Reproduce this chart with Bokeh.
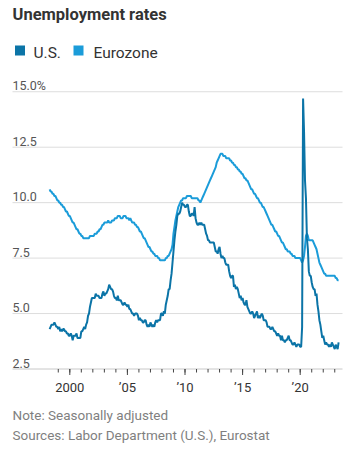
from bokeh.plotting import figure
from bokeh.models import Range1d, ColumnDataSource
from bokeh.core.properties import value
from bokeh.embed import file_html
from bokeh.resources import INLINE

# ---------------- data ----------------
title_text = "Unemployment rates"
series_names = ["U.S.", "Eurozone"]
series_colors = ["#0b74a7", "#1b9cd9"]
start_year, start_month = 1998, 4  # first monthly observation (Apr 1998)

us_rate = [
    4.3, 4.4, 4.5, 4.5, 4.5, 4.6, 4.5, 4.4, 4.4,                     # 1998
    4.3, 4.4, 4.2, 4.3, 4.2, 4.3, 4.3, 4.2, 4.2, 4.1, 4.1, 4.0,      # 1999
    4.0, 4.1, 4.0, 3.8, 4.0, 4.0, 4.0, 4.1, 3.9, 3.9, 3.9, 3.9,      # 2000
    4.2, 4.2, 4.3, 4.4, 4.3, 4.5, 4.6, 4.9, 5.0, 5.3, 5.5, 5.7,      # 2001
    5.7, 5.7, 5.7, 5.9, 5.8, 5.8, 5.8, 5.7, 5.7, 5.7, 5.9, 6.0,      # 2002
    5.8, 5.9, 5.9, 6.0, 6.1, 6.3, 6.2, 6.1, 6.1, 6.0, 5.8, 5.7,      # 2003
    5.7, 5.6, 5.8, 5.6, 5.6, 5.6, 5.5, 5.4, 5.4, 5.5, 5.4, 5.4,      # 2004
    5.3, 5.4, 5.2, 5.2, 5.1, 5.0, 5.0, 4.9, 5.0, 5.0, 5.0, 4.9,      # 2005
    4.7, 4.8, 4.7, 4.7, 4.6, 4.6, 4.7, 4.7, 4.5, 4.4, 4.5, 4.4,      # 2006
    4.6, 4.5, 4.4, 4.5, 4.4, 4.6, 4.7, 4.6, 4.7, 4.7, 4.7, 5.0,      # 2007
    5.0, 4.9, 5.1, 5.0, 5.4, 5.6, 5.8, 6.1, 6.1, 6.5, 6.8, 7.3,      # 2008
    7.8, 8.3, 8.7, 9.0, 9.4, 9.5, 9.5, 9.6, 9.8, 10.0, 9.9, 9.9,     # 2009
    9.8, 9.8, 9.9, 9.9, 9.6, 9.4, 9.4, 9.5, 9.5, 9.4, 9.8, 9.3,      # 2010
    9.1, 9.0, 9.0, 9.1, 9.0, 9.1, 9.0, 9.0, 9.0, 8.8, 8.6, 8.5,      # 2011
    8.3, 8.3, 8.2, 8.2, 8.2, 8.2, 8.2, 8.0, 7.8, 7.8, 7.7, 7.9,      # 2012
    8.0, 7.7, 7.5, 7.6, 7.5, 7.5, 7.3, 7.2, 7.2, 7.2, 6.9, 6.7,      # 2013
    6.6, 6.7, 6.7, 6.2, 6.3, 6.1, 6.2, 6.1, 5.9, 5.7, 5.8, 5.6,      # 2014
    5.7, 5.5, 5.4, 5.4, 5.6, 5.3, 5.2, 5.1, 5.0, 5.0, 5.1, 5.0,      # 2015
    4.8, 4.9, 5.0, 5.1, 4.8, 4.9, 4.8, 4.9, 5.0, 4.9, 4.7, 4.7,      # 2016
    4.7, 4.6, 4.4, 4.4, 4.4, 4.3, 4.3, 4.4, 4.3, 4.2, 4.2, 4.1,      # 2017
    4.0, 4.1, 4.0, 4.0, 3.8, 4.0, 3.8, 3.8, 3.7, 3.8, 3.8, 3.9,      # 2018
    4.0, 3.8, 3.8, 3.7, 3.6, 3.6, 3.7, 3.6, 3.5, 3.6, 3.6, 3.6,      # 2019
    3.5, 3.5, 4.4, 14.7, 13.2, 11.0, 10.2, 8.4, 7.9, 6.9, 6.7, 6.7,  # 2020
    6.4, 6.2, 6.1, 6.1, 5.8, 5.9, 5.4, 5.1, 4.7, 4.5, 4.2, 3.9,      # 2021
    4.0, 3.8, 3.6, 3.7, 3.6, 3.6, 3.5, 3.6, 3.5, 3.7, 3.6, 3.5,      # 2022
    3.4, 3.6, 3.5, 3.4, 3.7,                                         # 2023
]

ez_rate = [
    10.6, 10.5, 10.5, 10.4, 10.4, 10.3, 10.3, 10.2, 10.1,                  # 1998
    10.1, 10.0, 10.0, 9.9, 9.9, 9.8, 9.8, 9.7, 9.6, 9.6, 9.5, 9.4,         # 1999
    9.4, 9.3, 9.2, 9.1, 9.1, 9.0, 8.9, 8.8, 8.8, 8.7, 8.6, 8.6,            # 2000
    8.5, 8.5, 8.4, 8.4, 8.4, 8.4, 8.4, 8.4, 8.4, 8.5, 8.5, 8.5,            # 2001
    8.5, 8.5, 8.6, 8.6, 8.6, 8.7, 8.7, 8.8, 8.8, 8.9, 9.0, 9.0,            # 2002
    9.1, 9.1, 9.1, 9.1, 9.2, 9.1, 9.1, 9.1, 9.2, 9.2, 9.2, 9.3,            # 2003
    9.3, 9.3, 9.4, 9.4, 9.4, 9.3, 9.3, 9.3, 9.4, 9.4, 9.4, 9.3,            # 2004
    9.3, 9.3, 9.2, 9.3, 9.2, 9.1, 9.1, 9.1, 9.0, 9.0, 8.9, 8.9,            # 2005
    8.8, 8.7, 8.7, 8.6, 8.5, 8.4, 8.4, 8.3, 8.2, 8.1, 8.0, 8.0,            # 2006
    7.9, 7.8, 7.8, 7.7, 7.7, 7.6, 7.6, 7.6, 7.5, 7.5, 7.4, 7.4,            # 2007
    7.4, 7.4, 7.4, 7.4, 7.5, 7.5, 7.6, 7.6, 7.7, 7.8, 7.9, 8.1,            # 2008
    8.6, 8.9, 9.2, 9.4, 9.6, 9.8, 9.9, 10.0, 10.1, 10.1, 10.2, 10.2,       # 2009
    10.2, 10.2, 10.3, 10.3, 10.3, 10.3, 10.3, 10.2, 10.2, 10.2, 10.2, 10.2,  # 2010
    10.2, 10.2, 10.1, 10.1, 10.0, 10.1, 10.2, 10.3, 10.4, 10.5, 10.6, 10.7,  # 2011
    10.8, 10.9, 11.0, 11.1, 11.2, 11.3, 11.4, 11.5, 11.6, 11.8, 11.9, 12.0,  # 2012
    12.1, 12.2, 12.2, 12.2, 12.1, 12.1, 12.1, 12.0, 12.0, 12.0, 12.0, 11.9,  # 2013
    11.9, 11.8, 11.8, 11.7, 11.7, 11.6, 11.6, 11.5, 11.5, 11.4, 11.4, 11.3,  # 2014
    11.3, 11.2, 11.1, 11.1, 11.0, 11.0, 10.9, 10.8, 10.7, 10.6, 10.6, 10.5,  # 2015
    10.4, 10.4, 10.3, 10.2, 10.2, 10.1, 10.0, 10.0, 9.9, 9.8, 9.8, 9.7,      # 2016
    9.6, 9.5, 9.4, 9.3, 9.2, 9.1, 9.0, 9.0, 8.9, 8.8, 8.7, 8.7,            # 2017
    8.6, 8.5, 8.5, 8.4, 8.3, 8.2, 8.2, 8.1, 8.0, 7.9, 7.9, 7.8,            # 2018
    7.8, 7.8, 7.7, 7.7, 7.6, 7.6, 7.6, 7.5, 7.5, 7.5, 7.5, 7.5,            # 2019
    7.5, 7.4, 7.3, 7.4, 7.6, 8.0, 8.5, 8.6, 8.5, 8.3, 8.3, 8.3,            # 2020
    8.3, 8.3, 8.2, 8.1, 8.0, 7.9, 7.7, 7.5, 7.3, 7.2, 7.1, 7.0,            # 2021
    6.9, 6.8, 6.8, 6.7, 6.7, 6.7, 6.7, 6.7, 6.7, 6.7, 6.7, 6.7,            # 2022
    6.7, 6.6, 6.6, 6.5, 6.5,                                               # 2023
]

y_ticks = [2.5, 5.0, 7.5, 10.0, 12.5, 15.0]
y_tick_labels = ["2.5", "5.0", "7.5", "10.0", "12.5", "15.0%"]
x_major_years = [2000, 2005, 2010, 2015, 2020]
x_major_labels = ["2000", "\u201905", "\u201910", "\u201915", "\u201920"]
x_minor_years = list(range(1999, 2024))
note_lines = ["Note: Seasonally adjusted", "Sources: Labor Department (U.S.), Eurostat"]

# ---------------- layout (pixel geometry of the canvas) ----------------
W, H = 356, 452
PLOT_L, PLOT_R = 12, 342      # extent of gridlines / axis line
BASE_PY = 368.5               # pixel row of the 2.5 baseline
X2000_PX = 69.3               # pixel column of year 2000
PX_PER_YEAR = 11.52
PX_PER_UNIT = 22.18
TXT_SHIFT = 3                 # svg text renders ~3px low; compensate

X0 = 2000 - X2000_PX / PX_PER_YEAR
X1 = X0 + W / PX_PER_YEAR
Y1 = 2.5 + BASE_PY / PX_PER_UNIT
Y0 = Y1 - H / PX_PER_UNIT

def dx(px):
    return X0 + px / PX_PER_YEAR

def dy(py):
    return Y1 - py / PX_PER_UNIT

def ty(py):
    return dy(py - TXT_SHIFT)

def dh(px):
    return px / PX_PER_UNIT

FONT = "Roboto"

def month_x(n):
    return [start_year + (start_month - 1 + i) / 12 for i in range(n)]

p = figure(width=W, height=H, output_backend="svg", toolbar_location=None,
           title=None,
           x_range=Range1d(X0, X1), y_range=Range1d(Y0, Y1),
           x_axis_location=None, y_axis_location=None, min_border=0)
p.outline_line_color = None
p.background_fill_color = "white"
p.border_fill_color = "white"
p.grid.visible = False

# horizontal gridlines (5 .. 15) and the baseline axis line at 2.5
n_grid = len(y_ticks) - 1
p.segment(x0=[dx(PLOT_L)] * n_grid, x1=[dx(PLOT_R)] * n_grid,
          y0=y_ticks[1:], y1=y_ticks[1:], line_color="#dddddd", line_width=1)
p.segment(x0=[dx(PLOT_L)], x1=[dx(PLOT_R)], y0=[y_ticks[0]], y1=[y_ticks[0]],
          line_color="#c8c8c8", line_width=1)

# x ticks
p.segment(x0=x_minor_years, x1=x_minor_years,
          y0=[y_ticks[0]] * len(x_minor_years),
          y1=[y_ticks[0] - dh(3.5)] * len(x_minor_years),
          line_color="#444444", line_width=1)
p.segment(x0=x_major_years, x1=x_major_years,
          y0=[y_ticks[0]] * len(x_major_years),
          y1=[y_ticks[0] - dh(6)] * len(x_major_years),
          line_color="#444444", line_width=1)
p.text(x=x_major_years, y=[ty(389.5)] * len(x_major_years), text=x_major_labels,
       text_font=value(FONT), text_font_size="13px", text_color="#333333",
       text_align="center", text_baseline="alphabetic")

# lines
ez_src = ColumnDataSource(dict(x=month_x(len(ez_rate)), y=ez_rate))
us_src = ColumnDataSource(dict(x=month_x(len(us_rate)), y=us_rate))
p.line("x", "y", source=ez_src, line_color=series_colors[1], line_width=2)
p.line("x", "y", source=us_src, line_color=series_colors[0], line_width=2)

# y tick labels (above gridlines, left)
p.text(x=[dx(PLOT_L)] * len(y_ticks), y=y_ticks, text=y_tick_labels,
       y_offset=-3 - TXT_SHIFT,
       text_font=value(FONT), text_font_size="12.5px", text_color="#555555",
       text_align="left", text_baseline="alphabetic")

# title
p.text(x=[dx(12)], y=[ty(17)], text=[title_text], text_font=value(FONT),
       text_font_style="bold", text_font_size="16.5px", text_color="#333333",
       text_align="left", text_baseline="alphabetic")

# legend
p.scatter(x=[dx(19.5), dx(78)], y=[dy(50)] * 2, marker="square", size=10,
          fill_color=series_colors, line_color=None)
p.text(x=[dx(33), dx(93)], y=[ty(55)] * 2, text=series_names,
       text_font=value(FONT), text_font_size="15.5px", text_color="#333333",
       text_align="left", text_baseline="alphabetic")

# notes
p.text(x=[dx(12)] * 2, y=[ty(417.5), ty(437)], text=note_lines,
       text_font=value(FONT), text_font_size="13.5px", text_color="#7f7f7f",
       text_align="left", text_baseline="alphabetic")

open("out.html", "w").write(file_html(p, INLINE))
